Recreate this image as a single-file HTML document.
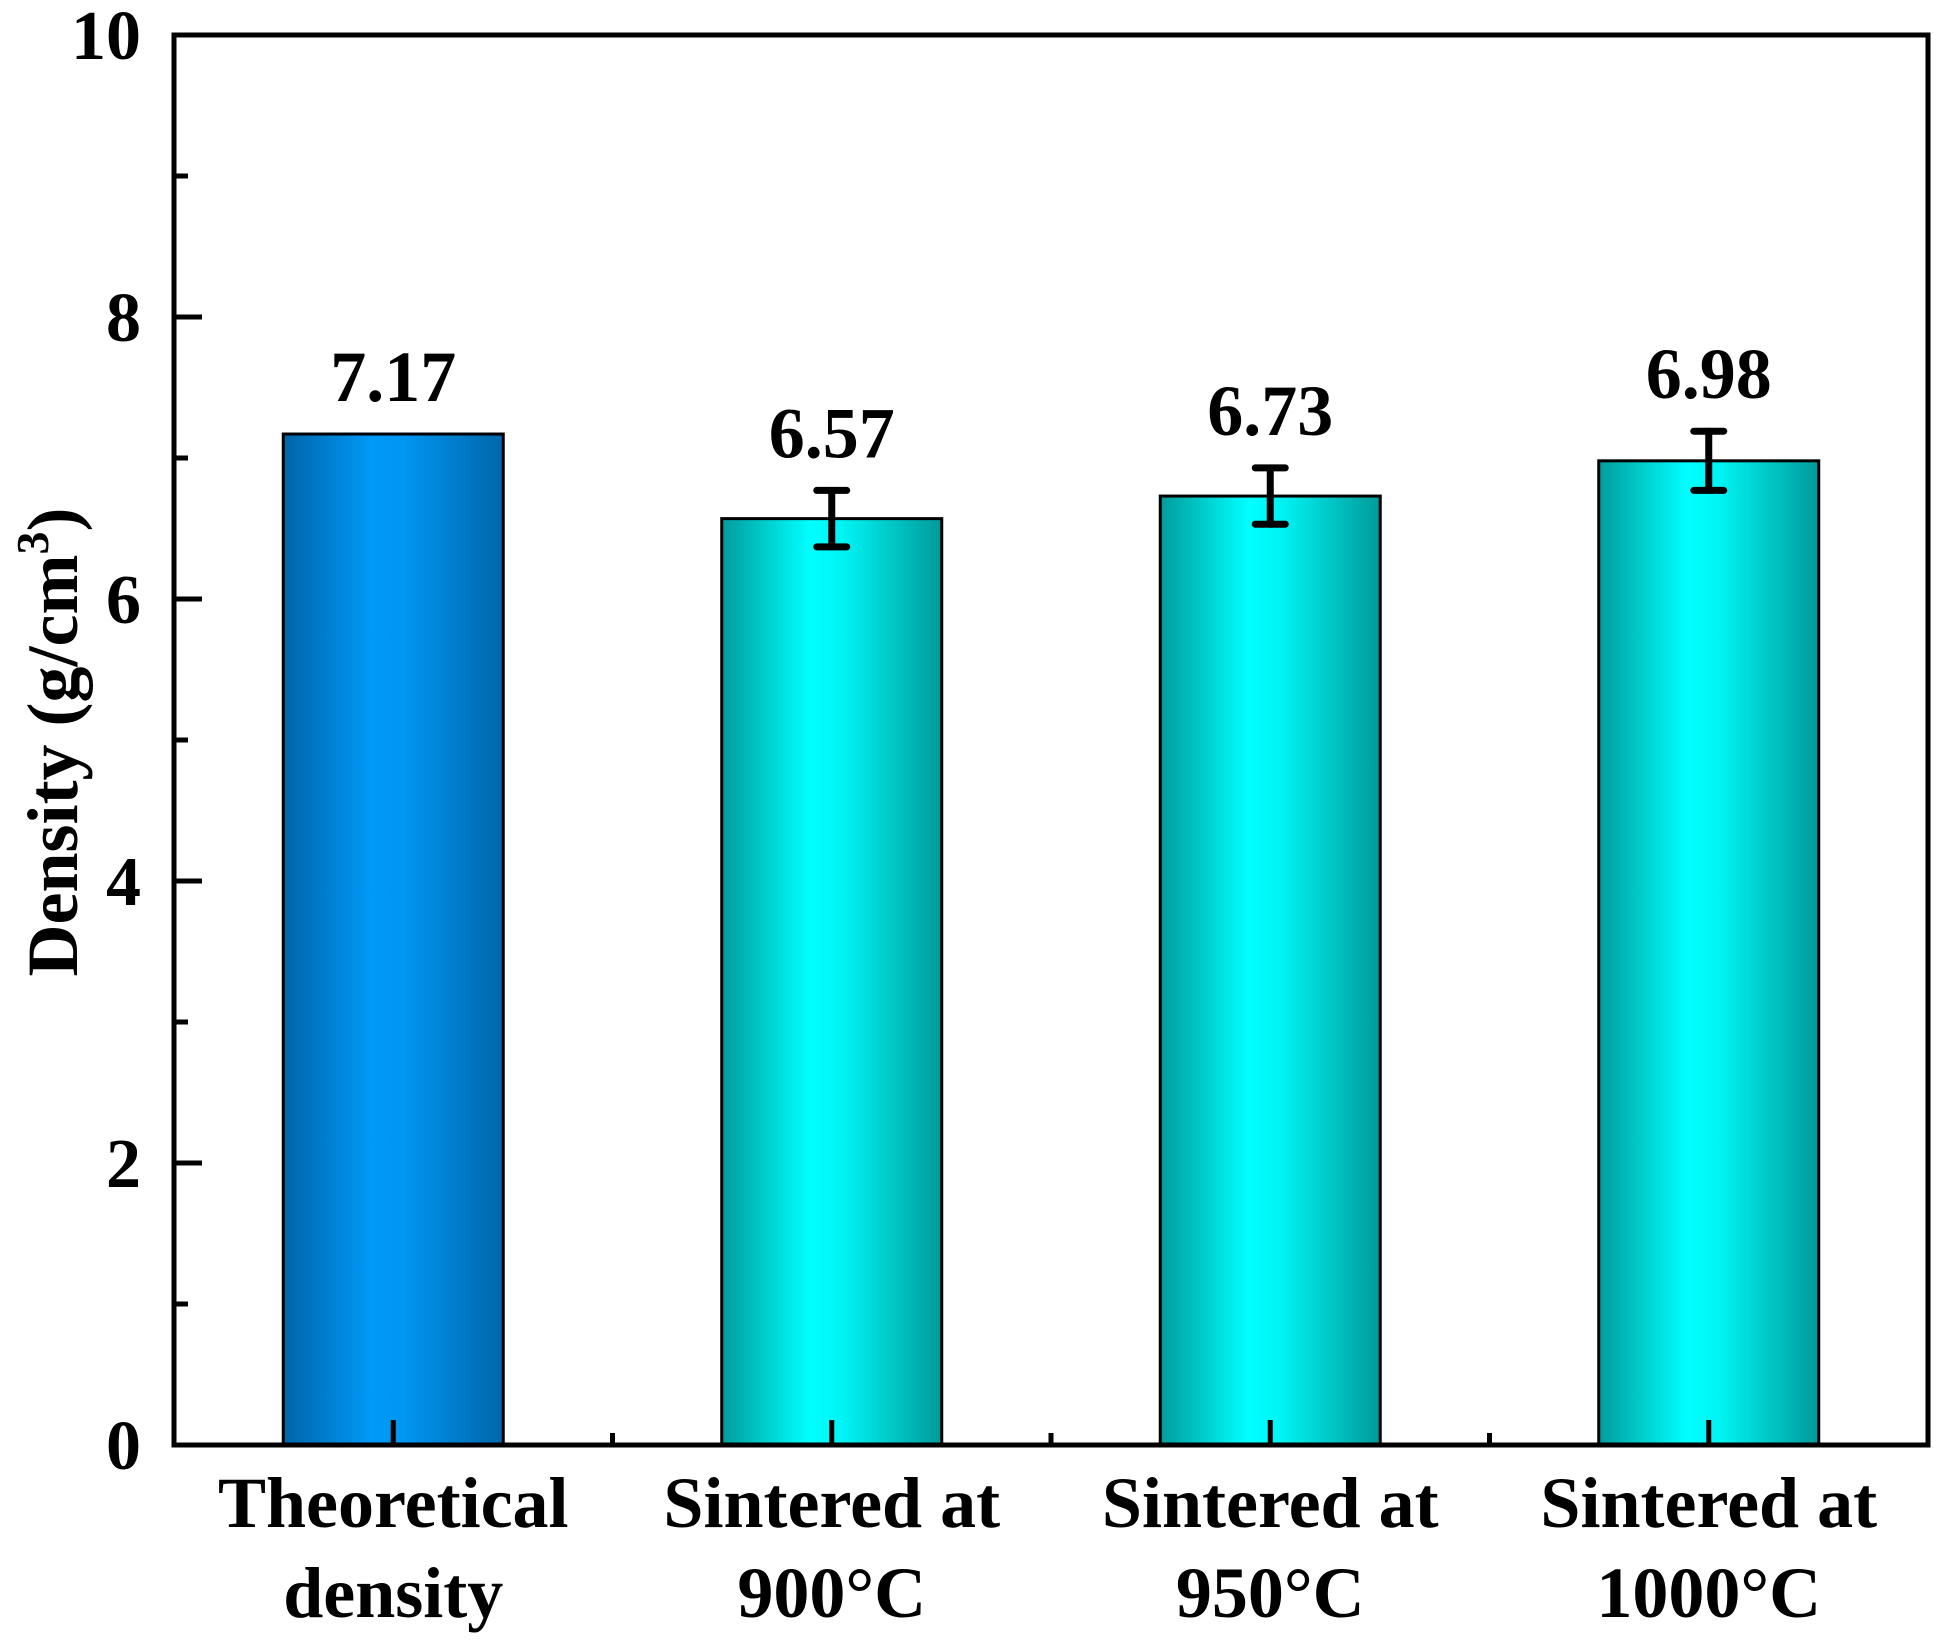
<!DOCTYPE html>
<html><head><meta charset="utf-8"><style>
html,body{margin:0;padding:0;background:#fff}
svg{display:block}
text{font-family:"Liberation Serif","Times New Roman",serif;font-weight:bold;fill:#000}
</style></head><body>
<svg id="chart" width="1959" height="1649" viewBox="0 0 1959 1649">
<defs>
<linearGradient id="gBlue" x1="0" x2="1" y1="0" y2="0">
<stop offset="0" stop-color="#0064a8"/><stop offset="0.4" stop-color="#0099f8"/><stop offset="0.55" stop-color="#0096f2"/><stop offset="1" stop-color="#0066aa"/></linearGradient>
<linearGradient id="gCyan" x1="0" x2="1" y1="0" y2="0">
<stop offset="0" stop-color="#009c9c"/><stop offset="0.4" stop-color="#00ffff"/><stop offset="0.55" stop-color="#00f4f4"/><stop offset="1" stop-color="#009a9a"/></linearGradient>
</defs>
<g id="marks"></g>
<g id="axes"></g>
<text x="53" y="742" font-size="72" text-anchor="middle" transform="rotate(-90 53 742)" dy="24">Density (g/cm<tspan font-size="46" dy="-29">3</tspan><tspan dy="29">)</tspan></text>
</svg>
<script>
const categories = [["Theoretical","density"],["Sintered at","900°C"],["Sintered at","950°C"],["Sintered at","1000°C"]];
const values = [7.17, 6.57, 6.73, 6.98];
const errors = [null, 0.2, 0.2, 0.21];
const valueLabels = ["7.17","6.57","6.73","6.98"];
const yTicks = [0,2,4,6,8,10];
const yMinor = [1,3,5,7,9];

const NS="http://www.w3.org/2000/svg";
const L=174,R=1928,T=35,B=1445,yMax=10;
const y=v=>B-(B-T)*v/yMax;
const band=(R-L)/categories.length;
const xc=i=>L+band*(i+0.5);
const bw=220;
function mk(tag,attrs,parent){const e=document.createElementNS(NS,tag);for(const k in attrs)e.setAttribute(k,attrs[k]);parent.appendChild(e);return e;}
const marks=document.getElementById('marks'), axes=document.getElementById('axes');
values.forEach((v,i)=>{
  const r=mk('rect',{x:xc(i)-bw/2,y:y(v),width:bw,height:B-y(v),fill:i===0?'url(#gBlue)':'url(#gCyan)',stroke:'#000','stroke-width':3},marks);
  
  
  let top=y(v);
  if(errors[i]!=null){
    const g=mk('g',{stroke:'#000','stroke-width':7,'stroke-linecap':'round'},marks);
    
    
    const t=y(v+errors[i]),b=y(v-errors[i]);
    mk('line',{x1:xc(i),x2:xc(i),y1:t,y2:b},g);
    mk('line',{x1:xc(i)-15,x2:xc(i)+15,y1:t,y2:t},g);
    mk('line',{x1:xc(i)-15,x2:xc(i)+15,y1:b,y2:b},g);
    top=t;
  }
  const tx=mk('text',{x:xc(i),y:top-33,'font-size':72,'text-anchor':'middle'},marks);
  tx.textContent=valueLabels[i];
  
  
  categories[i].forEach((s,j)=>{
    const c=mk('text',{x:xc(i),y:1527+j*90,'font-size':72,'text-anchor':'middle'},axes);
    c.textContent=s;
    
    
  });
  const tk=mk('line',{x1:xc(i),x2:xc(i),y1:B,y2:B-25,stroke:'#000','stroke-width':5},axes);
  
  
});
for(let i=1;i<categories.length;i++){
  const m=mk('line',{x1:L+band*i,x2:L+band*i,y1:B,y2:B-12,stroke:'#000','stroke-width':5},axes);
  
  
}
yTicks.forEach(v=>{
  const l=mk('line',{x1:L,x2:L+28,y1:y(v),y2:y(v),stroke:'#000','stroke-width':5},axes);
  
  
  const t=mk('text',{x:141,y:y(v)+24,'font-size':70,'text-anchor':'end'},axes);
  t.textContent=v;
  
  
});
yMinor.forEach(v=>{
  const l=mk('line',{x1:L,x2:L+14,y1:y(v),y2:y(v),stroke:'#000','stroke-width':5},axes);
  
  
});
const fr=mk('rect',{x:L,y:T,width:R-L,height:B-T,fill:'none',stroke:'#000','stroke-width':5},axes);


</script>
</body></html>
